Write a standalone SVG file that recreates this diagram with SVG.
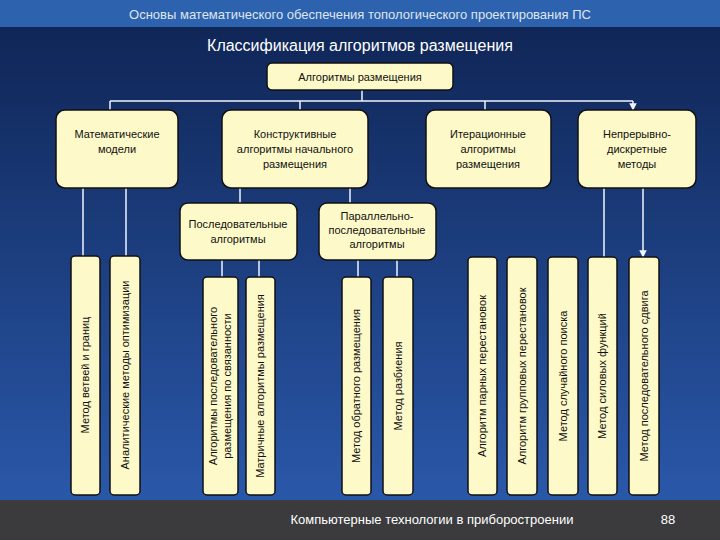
<svg xmlns="http://www.w3.org/2000/svg" width="720" height="540" viewBox="0 0 720 540">
<defs>
<linearGradient id="bg" x1="0" y1="0" x2="0" y2="1"><stop offset="0" stop-color="#0e2352"/><stop offset="1" stop-color="#2c5cb0"/></linearGradient>
<marker id="ar" viewBox="0 0 10 10" refX="9" refY="5" markerWidth="5" markerHeight="5" orient="auto"><path d="M0,0L10,5L0,10z" fill="#eef4ff"/></marker>
<style>
.b{fill:#fdf9c8;stroke:#111;stroke-width:1.5}
.t{font-family:"Liberation Sans",Arial,sans-serif;font-size:11px;fill:#111;text-anchor:middle}
.c{stroke:#eef4ff;stroke-width:1.5;fill:none}
</style>
</defs>
<rect width="720" height="540" fill="url(#bg)"/>
<rect width="720" height="27" fill="#2d62ae"/>
<text x="360" y="19" font-family="Liberation Sans,Arial,sans-serif" font-size="13" fill="#dfe6f0" text-anchor="middle">Основы математического обеспечения топологического проектирования ПС</text>
<text x="360" y="51" font-family="Liberation Sans,Arial,sans-serif" font-size="16" fill="#fff" text-anchor="middle">Классификация алгоритмов размещения</text>
<rect x="0" y="500" width="720" height="40" fill="#3b3b3d"/>
<text x="432" y="524" font-family="Liberation Sans,Arial,sans-serif" font-size="13" fill="#fff" text-anchor="middle">Компьютерные технологии в приборостроении</text>
<text x="668" y="524" font-family="Liberation Sans,Arial,sans-serif" font-size="13" fill="#fff" text-anchor="middle">88</text>
<g id="connectors">
<path class="c" d="M362 90V101M110 101H633" />
<path class="c" marker-end="url(#ar)" d="M110 101V110M300 101V110M485 101V110M633 101V110"/>
<path class="c" marker-end="url(#ar)" d="M83 188V256M126 188V256M240 188V203M350 188V203M222 260V277M259 260V277M358 260V277M397 260V277M604 188V257M643 188V257"/>
</g>
<g id="root"><rect class="b" x="267" y="63" width="186" height="27" rx="5"/><text class="t" x="360" y="81" font-size="12">Алгоритмы размещения</text></g>
<g id="n1"><rect class="b" x="56" y="110" width="122" height="78" rx="9"/><text class="t" x="117" y="138">Математические</text><text class="t" x="117" y="153">модели</text></g>
<g id="n2"><rect class="b" x="222" y="110" width="146" height="78" rx="9"/><text class="t" x="295" y="138">Конструктивные</text><text class="t" x="295" y="153">алгоритмы начального</text><text class="t" x="295" y="168">размещения</text></g>
<g id="n3"><rect class="b" x="426" y="110" width="125" height="78" rx="9"/><text class="t" x="488" y="138">Итерационные</text><text class="t" x="488" y="153">алгоритмы</text><text class="t" x="488" y="168">размещения</text></g>
<g id="n4"><rect class="b" x="578" y="110" width="118" height="78" rx="9"/><text class="t" x="637" y="138">Непрерывно-</text><text class="t" x="637" y="153">дискретные</text><text class="t" x="637" y="168">методы</text></g>
<g id="s1"><rect class="b" x="180" y="203" width="117" height="57" rx="8"/><text class="t" x="238" y="228">Последовательные</text><text class="t" x="238" y="243">алгоритмы</text></g>
<g id="s2"><rect class="b" x="319" y="203" width="117" height="57" rx="8"/><text class="t" x="377" y="220">Параллельно-</text><text class="t" x="377" y="234">последовательные</text><text class="t" x="377" y="248">алгоритмы</text></g>
<g id="v1"><rect class="b" x="71" y="256" width="29" height="239" rx="4"/><text class="t" transform="translate(89,375) rotate(-90)">Метод ветвей и границ</text></g>
<g id="v2"><rect class="b" x="110" y="256" width="30" height="239" rx="4"/><text class="t" transform="translate(129,375) rotate(-90)">Аналитические методы оптимизации</text></g>
<g id="v3"><rect class="b" x="203" y="277" width="35" height="218" rx="4"/><text class="t" transform="translate(217,386) rotate(-90)">Алгоритмы последовательного</text><text class="t" transform="translate(231,386) rotate(-90)">размещения по связанности</text></g>
<g id="v4"><rect class="b" x="246" y="277" width="29" height="218" rx="4"/><text class="t" transform="translate(264,386) rotate(-90)">Матричные алгоритмы размещения</text></g>
<g id="v5"><rect class="b" x="342" y="277" width="29" height="218" rx="4"/><text class="t" transform="translate(360,386) rotate(-90)">Метод обратного размещения</text></g>
<g id="v6"><rect class="b" x="383" y="277" width="30" height="218" rx="4"/><text class="t" transform="translate(402,386) rotate(-90)">Метод разбиения</text></g>
<g id="v7"><rect class="b" x="468" y="257" width="29" height="238" rx="4"/><text class="t" transform="translate(486,376) rotate(-90)">Алгоритм парных перестановок</text></g>
<g id="v8"><rect class="b" x="507" y="257" width="30" height="238" rx="4"/><text class="t" transform="translate(526,376) rotate(-90)">Алгоритм групповых перестановок</text></g>
<g id="v9"><rect class="b" x="548" y="257" width="30" height="238" rx="4"/><text class="t" transform="translate(567,376) rotate(-90)">Метод случайного поиска</text></g>
<g id="v10"><rect class="b" x="588" y="257" width="29" height="238" rx="4"/><text class="t" transform="translate(606,376) rotate(-90)">Метод силовых функций</text></g>
<g id="v11"><rect class="b" x="629" y="257" width="30" height="238" rx="4"/><text class="t" transform="translate(648,376) rotate(-90)">Метод последовательного сдвига</text></g>
</svg>
